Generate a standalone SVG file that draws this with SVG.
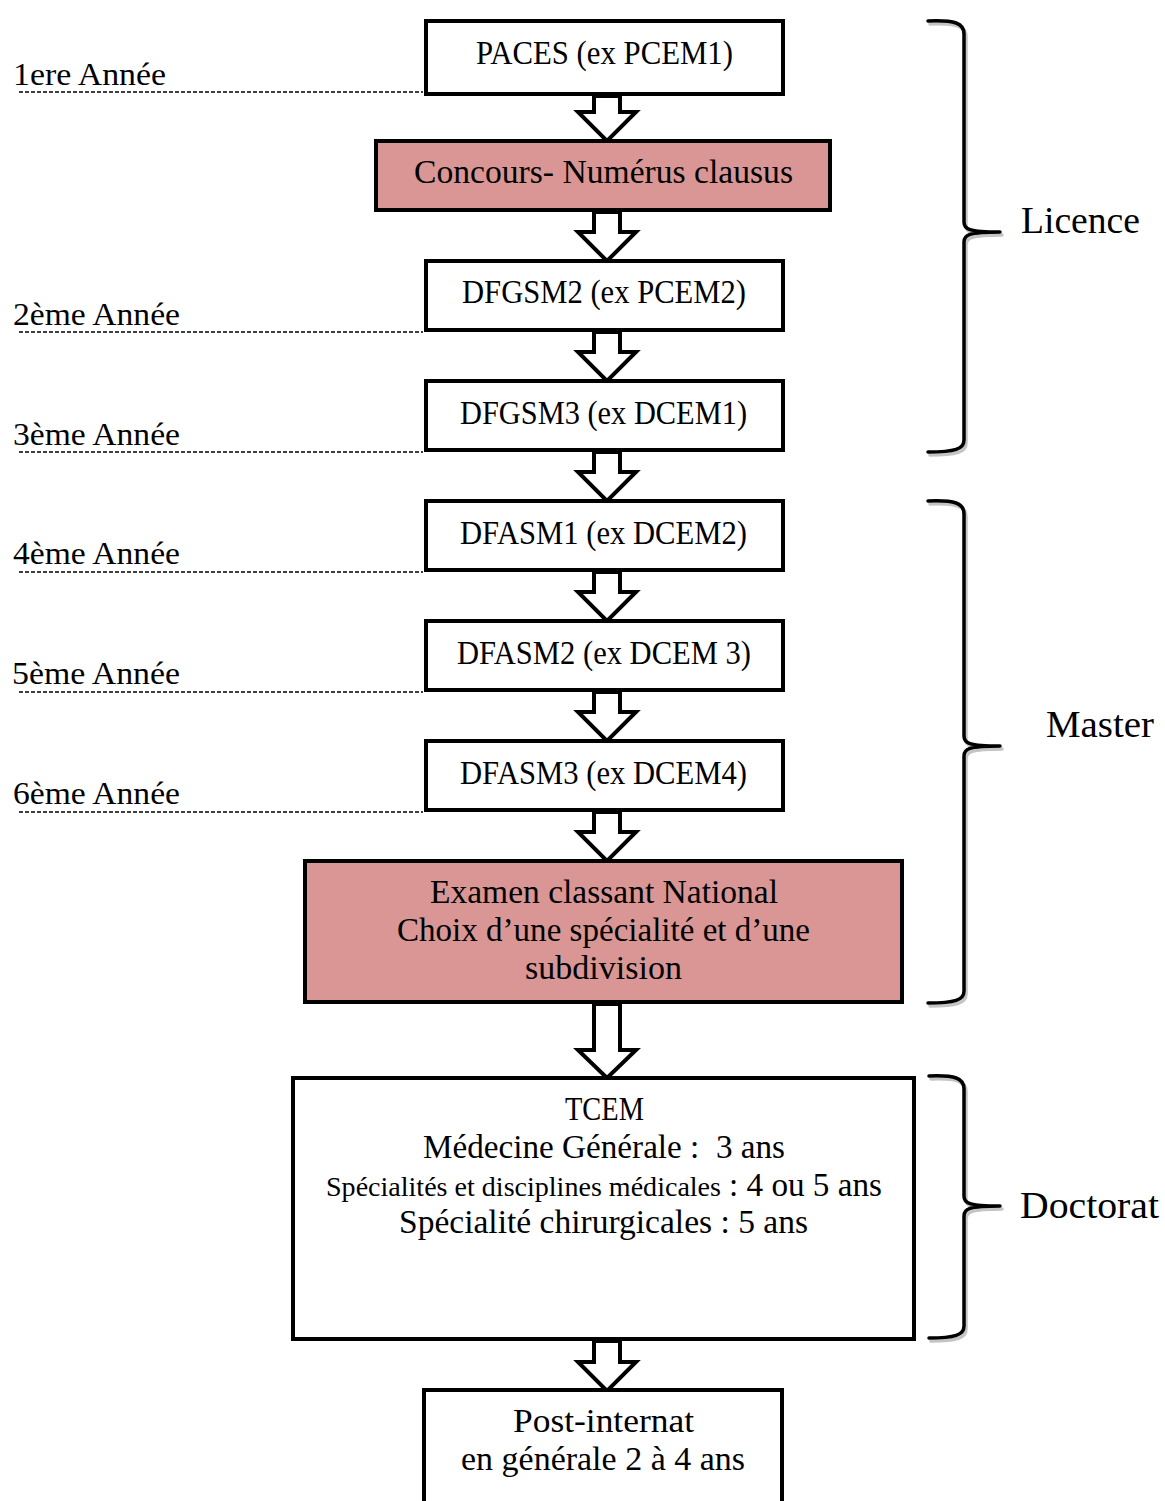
<svg xmlns="http://www.w3.org/2000/svg" width="1165" height="1501" viewBox="0 0 1165 1501">
<style>
  text { font-family: "Liberation Serif", "DejaVu Serif", serif; fill: #000; }
  .bt { font-size: 34px; text-anchor: middle; }
  .lt { font-size: 31px; }
  .rt { font-size: 37px; }
  .box { fill: #fff; stroke: #000; stroke-width: 4; }
  .pink { fill: #d99694; stroke: #000; stroke-width: 4; }
  .arr { fill: #fff; stroke: #000; stroke-width: 4; stroke-linejoin: miter; }
  .dash { stroke: #000; stroke-width: 1.5; stroke-dasharray: 4 2; fill: none; }
  .brace { fill: none; stroke: #000; stroke-width: 3.5; stroke-linecap: round; }
  .shadow { fill: none; stroke: #c4c4c4; stroke-width: 3.5; stroke-linecap: round; }
</style>
<rect width="1165" height="1501" fill="#fff"/>

<g id="guides">
  <line class="dash" x1="19" y1="92" x2="423" y2="92"/>
  <line class="dash" x1="19" y1="332" x2="423" y2="332"/>
  <line class="dash" x1="19" y1="452" x2="423" y2="452"/>
  <line class="dash" x1="19" y1="572" x2="423" y2="572"/>
  <line class="dash" x1="19" y1="692" x2="423" y2="692"/>
  <line class="dash" x1="19" y1="812" x2="423" y2="812"/>
  <text class="lt" x="13" y="85" textLength="153" lengthAdjust="spacingAndGlyphs">1ere Année</text>
  <text class="lt" x="13" y="325" textLength="167" lengthAdjust="spacingAndGlyphs">2ème Année</text>
  <text class="lt" x="13" y="445" textLength="167" lengthAdjust="spacingAndGlyphs">3ème Année</text>
  <text class="lt" x="13" y="564" textLength="167" lengthAdjust="spacingAndGlyphs">4ème Année</text>
  <text class="lt" x="12" y="684" textLength="168" lengthAdjust="spacingAndGlyphs">5ème Année</text>
  <text class="lt" x="13" y="804" textLength="167" lengthAdjust="spacingAndGlyphs">6ème Année</text>
</g>

<g id="connectors">
  <path class="arr" d="M594,96 L594,112 L578,112 L607,141 L636,112 L620,112 L620,96 Z"/>
  <path class="arr" d="M594,212 L594,232 L578,232 L607,261 L636,232 L620,232 L620,212 Z"/>
  <path class="arr" d="M594,332 L594,352 L578,352 L607,381 L636,352 L620,352 L620,332 Z"/>
  <path class="arr" d="M594,452 L594,472 L578,472 L607,501 L636,472 L620,472 L620,452 Z"/>
  <path class="arr" d="M594,572 L594,592 L578,592 L607,621 L636,592 L620,592 L620,572 Z"/>
  <path class="arr" d="M594,692 L594,712 L578,712 L607,741 L636,712 L620,712 L620,692 Z"/>
  <path class="arr" d="M594,812 L594,832 L578,832 L607,861 L636,832 L620,832 L620,812 Z"/>
  <path class="arr" d="M594,1004 L594,1050 L578,1050 L607,1078 L636,1050 L620,1050 L620,1004 Z"/>
  <path class="arr" d="M594,1341 L594,1362 L578,1362 L607,1391 L636,1362 L620,1362 L620,1341 Z"/>
</g>

<g id="n-paces">
  <rect class="box" x="426" y="21" width="357" height="73"/>
  <text class="bt" x="604.5" y="64" textLength="257" lengthAdjust="spacingAndGlyphs">PACES (ex PCEM1)</text>
</g>
<g id="n-concours">
  <rect class="pink" x="376" y="141" width="454" height="69"/>
  <text class="bt" x="603.5" y="183" textLength="379" lengthAdjust="spacingAndGlyphs">Concours- Numérus clausus</text>
</g>
<g id="n-dfgsm2">
  <rect class="box" x="426" y="261" width="357" height="69"/>
  <text class="bt" x="604" y="303" textLength="284" lengthAdjust="spacingAndGlyphs">DFGSM2 (ex PCEM2)</text>
</g>
<g id="n-dfgsm3">
  <rect class="box" x="426" y="381" width="357" height="69"/>
  <text class="bt" x="603.5" y="424" textLength="287" lengthAdjust="spacingAndGlyphs">DFGSM3 (ex DCEM1)</text>
</g>
<g id="n-dfasm1">
  <rect class="box" x="426" y="501" width="357" height="69"/>
  <text class="bt" x="603.5" y="544" textLength="287" lengthAdjust="spacingAndGlyphs">DFASM1 (ex DCEM2)</text>
</g>
<g id="n-dfasm2">
  <rect class="box" x="426" y="621" width="357" height="69"/>
  <text class="bt" x="604" y="664" textLength="294" lengthAdjust="spacingAndGlyphs">DFASM2 (ex DCEM 3)</text>
</g>
<g id="n-dfasm3">
  <rect class="box" x="426" y="741" width="357" height="69"/>
  <text class="bt" x="603.5" y="784" textLength="287" lengthAdjust="spacingAndGlyphs">DFASM3 (ex DCEM4)</text>
</g>
<g id="n-examen">
  <rect class="pink" x="305" y="861" width="597" height="141"/>
  <text class="bt" x="604" y="903" textLength="348" lengthAdjust="spacingAndGlyphs">Examen classant National</text>
  <text class="bt" x="603.5" y="941" textLength="413" lengthAdjust="spacingAndGlyphs">Choix d’une spécialité et d’une</text>
  <text class="bt" x="603.5" y="979" textLength="157" lengthAdjust="spacingAndGlyphs">subdivision</text>
</g>
<g id="n-tcem">
  <rect class="box" x="293" y="1078" width="621" height="261"/>
  <text class="bt" x="604.5" y="1120" textLength="79" lengthAdjust="spacingAndGlyphs">TCEM</text>
  <text class="bt" x="604" y="1158" textLength="362" lengthAdjust="spacingAndGlyphs" style="white-space:pre">Médecine Générale :  3 ans</text>
  <text x="326" y="1196" style="font-size:27px" textLength="395" lengthAdjust="spacingAndGlyphs">Spécialités et disciplines médicales</text>
  <text x="729" y="1196" style="font-size:34px" textLength="153" lengthAdjust="spacingAndGlyphs">: 4 ou 5 ans</text>
  <text class="bt" x="603.5" y="1233" textLength="409" lengthAdjust="spacingAndGlyphs">Spécialité chirurgicales : 5 ans</text>
</g>
<g id="n-post">
  <rect class="box" x="424" y="1390" width="358" height="140"/>
  <text class="bt" x="603.5" y="1432" textLength="181" lengthAdjust="spacingAndGlyphs">Post-internat</text>
  <text class="bt" x="603" y="1470" textLength="284" lengthAdjust="spacingAndGlyphs">en générale 2 à 4 ans</text>
</g>

<g id="b-licence">
  <path class="shadow" transform="translate(2,3)" d="M928,21 C955,20 964,23 964,34 L964,222 C964,229 968,232 1000,232 M1000,232 C968,232 964,235 964,242 L964,440 C964,449 955,452 928,452"/>
  <path class="brace" d="M928,21 C955,20 964,23 964,34 L964,222 C964,229 968,232 1000,232 M1000,232 C968,232 964,235 964,242 L964,440 C964,449 955,452 928,452"/>
  <text class="rt" x="1021" y="233" textLength="119" lengthAdjust="spacingAndGlyphs">Licence</text>
</g>
<g id="b-master">
  <path class="shadow" transform="translate(2,3)" d="M928,501 C955,500 964,503 964,514 L964,736 C964,743 968,746 1000,746 M1000,746 C968,746 964,749 964,756 L964,991 C964,1000 955,1003 928,1003"/>
  <path class="brace" d="M928,501 C955,500 964,503 964,514 L964,736 C964,743 968,746 1000,746 M1000,746 C968,746 964,749 964,756 L964,991 C964,1000 955,1003 928,1003"/>
  <text class="rt" x="1046" y="737" textLength="108" lengthAdjust="spacingAndGlyphs">Master</text>
</g>
<g id="b-doctorat">
  <path class="shadow" transform="translate(2,3)" d="M929,1076 C955,1075 964,1078 964,1089 L964,1196 C964,1203 968,1206 1000,1206 M1000,1206 C968,1206 964,1209 964,1216 L964,1326 C964,1335 955,1338 929,1338"/>
  <path class="brace" d="M929,1076 C955,1075 964,1078 964,1089 L964,1196 C964,1203 968,1206 1000,1206 M1000,1206 C968,1206 964,1209 964,1216 L964,1326 C964,1335 955,1338 929,1338"/>
  <text class="rt" x="1020" y="1218" textLength="139" lengthAdjust="spacingAndGlyphs">Doctorat</text>
</g>
</svg>
